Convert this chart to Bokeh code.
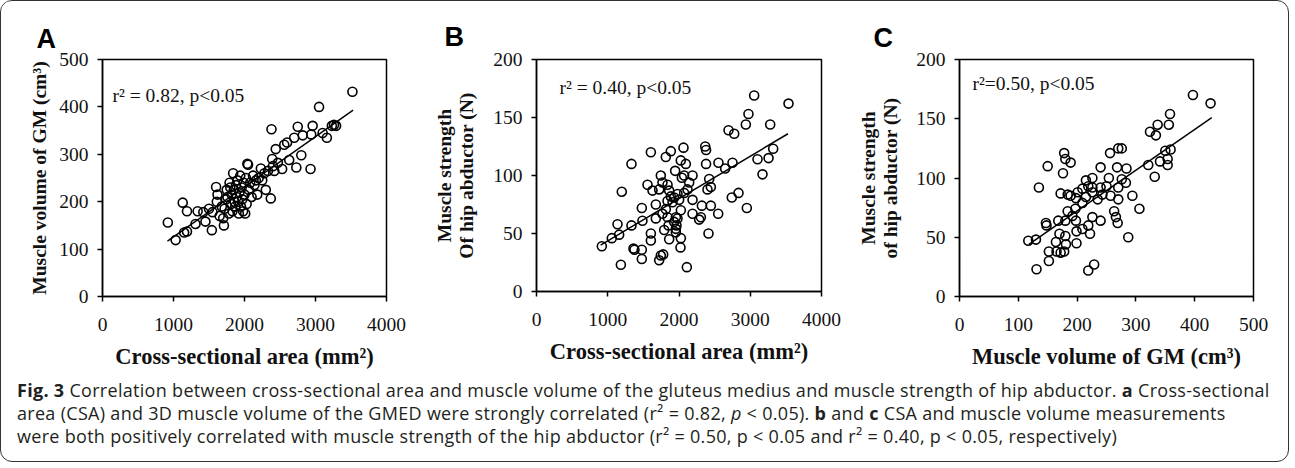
from bokeh.plotting import figure
from bokeh.layouts import row, column
from bokeh.models import Div, Label, FixedTicker, Range1d
from bokeh.embed import file_html
from bokeh.resources import INLINE

# ---------------- data ----------------
# Panel A: cross-sectional area (mm2) vs muscle volume of GM (cm3)
csa_a = [920, 1030, 1130, 1150, 1190, 1190, 1310, 1340, 1420, 1450, 1500, 1540, 1550, 1600, 1610,
         1620, 1650, 1680, 1700, 1710, 1720, 1740, 1750, 1760, 1780, 1790, 1800, 1810, 1820, 1830,
         1840, 1850, 1860, 1870, 1880, 1890, 1900, 1910, 1920, 1930, 1940, 1950, 1960, 1970, 1980,
         1990, 2000, 2010, 2020, 2030, 2040, 2050, 2060, 2080, 2100, 2120, 2140, 2160, 2180, 2200,
         2230, 2250, 2280, 2300, 2330, 2370, 2380, 2390, 2400, 2420, 2440, 2470, 2530, 2560, 2600,
         2630, 2700, 2730, 2750, 2800, 2820, 2930, 2940, 2960, 3050, 3100, 3160, 3230, 3260, 3290, 3520]
vol_a = [156, 119, 198, 135, 137, 180, 153, 180, 178, 158, 185, 140, 178, 231, 200,
         215, 170, 190, 165, 150, 185, 205, 225, 210, 175, 240, 230, 195, 215, 180,
         260, 225, 200, 190, 235, 210, 245, 200, 175, 220, 255, 190, 230, 205, 180,
         240, 215, 175, 250, 195, 280, 278, 225, 240, 210, 255, 235, 245, 215, 250,
         270, 245, 260, 225, 265, 207, 353, 290, 275, 265, 311, 282, 269, 320, 325,
         288, 335, 272, 358, 298, 340, 269, 342, 360, 400, 345, 335, 360, 362, 360, 432]
fit_a_x = [915, 3530]
fit_a_y = [117, 393]

# Panel B: cross-sectional area (mm2) vs muscle strength of hip abductor (N)
csa_b = [917, 1057, 1137, 1160, 1184, 1197, 1333, 1333, 1361, 1375, 1478, 1478, 1478, 1487, 1558,
         1605, 1605, 1605, 1628, 1675, 1675, 1722, 1722, 1745, 1745, 1768, 1768, 1778, 1792, 1815,
         1815, 1839, 1839, 1839, 1853, 1862, 1862, 1885, 1885, 1909, 1932, 1932, 1946, 1956, 1956,
         1956, 1965, 1979, 1979, 2002, 2021, 2025, 2026, 2026, 2040, 2063, 2072, 2072, 2096, 2110,
         2119, 2143, 2190, 2190, 2190, 2283, 2307, 2321, 2368, 2380, 2380, 2400, 2414, 2424, 2447,
         2447, 2550, 2554, 2648, 2695, 2741, 2751, 2775, 2835, 2938, 2952, 2975, 3055, 3102, 3172,
         3257, 3280, 3322, 3537]
str_b = [39, 46, 58, 49, 23, 86, 110, 57, 37, 36, 72, 36, 28, 61, 92,
         120, 50, 44, 87, 75, 63, 88, 27, 100, 31, 94, 67, 32, 53, 116,
         71, 92, 64, 78, 57, 87, 45, 121, 82, 77, 81, 60, 104, 64, 54,
         51, 57, 84, 63, 79, 38, 113, 70, 46, 98, 124, 85, 100, 110, 21,
         88, 94, 100, 79, 67, 62, 64, 74, 125, 122, 110, 88, 50, 97, 74,
         90, 67, 111, 106, 139, 81, 111, 136, 85, 144, 72, 153, 169, 114, 101,
         115, 144, 123, 162]
fit_b_x = [900, 3530]
fit_b_y = [40, 136]

# Panel C: muscle volume of GM (cm3) vs muscle strength of hip abductor (N)
vol_c = [117, 130, 131, 135, 147, 148, 150, 152, 152, 164, 165, 168, 170, 172, 172,
         176, 178, 178, 180, 180, 180, 181, 184, 184, 189, 189, 192, 197, 198, 198,
         199, 199, 201, 209, 209, 209, 215, 215, 219, 219, 219, 222, 226, 226, 226,
         226, 229, 235, 240, 240, 240, 243, 250, 254, 256, 257, 263, 266, 268, 269,
         270, 270, 270, 276, 276, 283, 284, 287, 294, 306, 321, 324, 332, 334, 337,
         341, 350, 354, 354, 356, 358, 359, 397, 427]
str_c = [47, 48, 23, 92, 62, 60, 110, 38, 30, 46, 38, 64, 53, 37, 87,
         104, 121, 38, 116, 64, 51, 44, 72, 86, 113, 85, 68, 74, 64, 83,
         55, 45, 88, 91, 57, 79, 98, 84, 93, 60, 22, 53, 100, 92, 67,
         88, 27, 82, 92, 109, 64, 86, 93, 100, 121, 85, 72, 67, 109, 62,
         125, 92, 82, 125, 99, 96, 108, 50, 85, 74, 111, 139, 101, 136, 145,
         114, 123, 116, 111, 145, 154, 124, 170, 163]
fit_c_x = [118, 429]
fit_c_y = [44, 151]

ticks_csa = [0, 1000, 2000, 3000, 4000]
ticks_vol_a = [0, 100, 200, 300, 400, 500]
ticks_str = [0, 50, 100, 150, 200]
ticks_vol_c = [0, 100, 200, 300, 400, 500]

SERIF = "Liberation Serif"


def make_panel(letter, xs, ys, fx, fy, xr, yr, xticks, yticks, xlabel, ylabel,
               stat, sx, sy, fw, fh, bl, br, bt, bb, t_off, t_stand, yl_stand):
    p = figure(frame_width=fw, frame_height=fh,
               min_border_left=bl, min_border_right=br, min_border_top=bt, min_border_bottom=bb,
               x_range=Range1d(*xr), y_range=Range1d(*yr),
               output_backend="svg", toolbar_location=None, title=letter)
    p.title.text_font = "Liberation Sans"
    p.title.text_font_style = "bold"
    p.title.text_font_size = "27px"
    p.title.align = "left"
    p.title.offset = t_off
    p.title.standoff = t_stand
    p.title.text_color = "black"
    p.grid.visible = False
    p.outline_line_color = "black"
    p.outline_line_width = 1.5
    p.background_fill_color = "white"
    p.border_fill_color = "white"
    p.xaxis.ticker = FixedTicker(ticks=xticks)
    p.yaxis.ticker = FixedTicker(ticks=yticks)
    p.axis.major_tick_out = 5
    p.axis.major_tick_in = 0
    p.axis.minor_tick_out = 0
    p.axis.minor_tick_in = 0
    p.axis.axis_line_width = 1.5
    p.axis.major_tick_line_width = 1.5
    p.axis.major_label_text_font = SERIF
    p.axis.major_label_text_font_size = "19.5px"
    p.axis.major_label_text_color = "#111111"
    p.yaxis.major_label_standoff = 9
    p.xaxis.major_label_standoff = 16
    p.axis.axis_label_text_font = SERIF
    p.axis.axis_label_text_font_style = "bold"
    p.axis.axis_label_text_color = "#111111"
    p.xaxis.axis_label = xlabel
    p.xaxis.axis_label_text_font_size = "22.5px"
    p.xaxis.axis_label_standoff = 10
    p.yaxis.axis_label = ylabel
    p.yaxis.axis_label_text_font_size = "19.5px"
    p.yaxis.axis_label_text_line_height = 1.05
    p.yaxis.axis_label_standoff = yl_stand
    p.line(fx, fy, line_color="black", line_width=1.5)
    p.scatter(xs, ys, marker="circle", size=9, fill_color=None,
              line_color="black", line_width=1.6)
    p.add_layout(Label(x=sx, y=sy, text=stat, text_font=SERIF, text_font_size="19.5px",
                       text_baseline="middle", text_color="#111111"))
    return p


pa = make_panel("A", csa_a, vol_a, fit_a_x, fit_a_y, (0, 4000), (0, 500), ticks_csa, ticks_vol_a,
                "Cross-sectional area (mm²)", "Muscle volume of GM (cm³)",
                "r² = 0.82, p<0.05", 141, 424,
                284, 237, 101, 38, 53, 82, -66, 12, 6)
pb = make_panel("B", csa_b, str_b, fit_b_x, fit_b_y, (0, 4000), (0, 200), ticks_csa, ticks_str,
                "Cross-sectional area (mm²)", "Muscle strength\nOf hip abductor (N)",
                "r² = 0.40, p<0.05", 323, 176,
                285, 232, 112, 31, 58, 82, -92, 16, 13)
pc = make_panel("C", vol_c, str_c, fit_c_x, fit_c_y, (0, 500), (0, 200), ticks_vol_c, ticks_str,
                "Muscle volume of GM (cm³)", "Muscle strength\nof hip abductor (N)",
                "r²=0.50, p<0.05", 22, 180,
                294, 237, 107, 25, 53, 82, -86, 13, 12)

caption = Div(
    text=("<div style=\"font-family:'Open Sans',sans-serif;font-size:18px;line-height:23px;"
          "letter-spacing:0.3px;color:#231f20;white-space:nowrap;padding:1px 0 0 11px;\">"
          "<b>Fig. 3</b> Correlation between cross-sectional area and muscle volume of the gluteus medius "
          "and muscle strength of hip abductor. <b>a</b> Cross-sectional<br>"
          "area (CSA) and 3D muscle volume of the GMED were strongly correlated "
          "(r² = 0.82, <i>p</i> &lt; 0.05). <b>b</b> and <b>c</b> CSA and muscle "
          "volume measurements<br>"
          "were both positively correlated with muscle strength of the hip abductor "
          "(r² = 0.50, p &lt; 0.05 and r² = 0.40, p &lt; 0.05, respectively)</div>"),
    width=1277, height=78)

layout = column(row(pa, pb, pc), caption,
                styles={"border": "1px solid #333333", "border-radius": "12px",
                        "overflow": "hidden", "background-color": "white"})

open("out.html", "w").write(file_html(layout, INLINE))
